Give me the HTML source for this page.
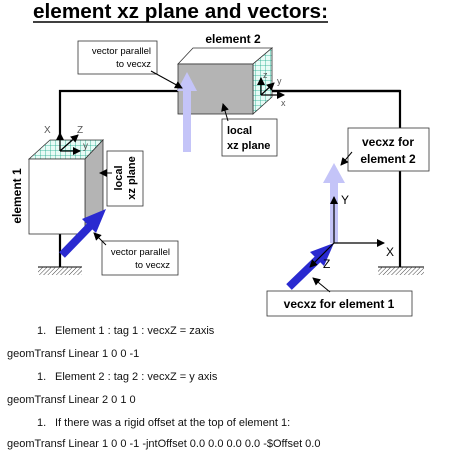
<!DOCTYPE html>
<html><head><meta charset="utf-8"><style>
html,body{margin:0;padding:0;background:#fff;}
svg{display:block;}
text{font-family:"Liberation Sans",Arial,sans-serif;}
</style></head><body>
<svg width="452" height="454" viewBox="0 0 452 454" xmlns="http://www.w3.org/2000/svg">
<defs>
<pattern id="grid" width="5" height="5" patternUnits="userSpaceOnUse">
<rect width="5" height="5" fill="#e8fbf6"/>
<path d="M0 0H5M0 0V5" stroke="#1aa88a" stroke-width="0.8"/>
</pattern>
<pattern id="hatch" width="3" height="3" patternUnits="userSpaceOnUse" patternTransform="rotate(45)">
<line x1="0" y1="0" x2="0" y2="3" stroke="#444" stroke-width="1"/>
</pattern>
<marker id="ah" markerWidth="8" markerHeight="8" refX="7" refY="4" orient="auto" markerUnits="userSpaceOnUse">
<path d="M0 0L8 4L0 8Z" fill="#000"/>
</marker>
</defs>

<text x="33" y="18" font-size="20" font-weight="bold" textLength="295" lengthAdjust="spacingAndGlyphs">element xz plane and vectors:</text>
<line x1="33" y1="22" x2="328" y2="22" stroke="#000" stroke-width="1.6"/>

<!-- frame -->
<path d="M60 140V91H400V267" fill="none" stroke="#000" stroke-width="2.2"/>
<line x1="60" y1="234" x2="60" y2="267" stroke="#000" stroke-width="2.2"/>
<line x1="38" y1="267" x2="82" y2="267" stroke="#000" stroke-width="1"/>
<rect x="38" y="267" width="44" height="8" fill="url(#hatch)"/>
<line x1="378" y1="267" x2="424" y2="267" stroke="#000" stroke-width="1"/>
<rect x="378" y="267" width="46" height="8" fill="url(#hatch)"/>

<!-- element 1 -->
<polygon points="29,159 50,140 103,140 85,159" fill="url(#grid)" stroke="#333" stroke-width="0.8"/>
<polygon points="85,159 103,140 103,213 85,234" fill="#b4b4b4" stroke="#333" stroke-width="0.8"/>
<rect x="29" y="159" width="56" height="75" fill="#fff" stroke="#333" stroke-width="0.8"/>
<line x1="60" y1="151" x2="60" y2="133" stroke="#000" stroke-width="1.3" marker-end="url(#ah)"/>
<line x1="60" y1="151" x2="78" y2="135" stroke="#000" stroke-width="1.3" marker-end="url(#ah)"/>
<line x1="60" y1="151" x2="80" y2="151" stroke="#000" stroke-width="1.3" marker-end="url(#ah)"/>
<text x="44" y="133" font-size="10" fill="#555">X</text>
<text x="77" y="133" font-size="10" fill="#555">Z</text>
<text x="83" y="149" font-size="10" fill="#555">y</text>
<text transform="translate(21,196) rotate(-90)" font-size="12" font-weight="bold" text-anchor="middle">element 1</text>

<rect x="107" y="151" width="36" height="55" fill="#fff" stroke="#333" stroke-width="0.8"/>
<text transform="translate(122,178) rotate(-90)" font-size="11" font-weight="bold" text-anchor="middle">local</text>
<text transform="translate(135,178) rotate(-90)" font-size="11" font-weight="bold" text-anchor="middle">xz plane</text>
<line x1="112" y1="173" x2="100" y2="173" stroke="#000" stroke-width="1" marker-end="url(#ah)"/>

<!-- dark blue arrow el1 -->
<line x1="62" y1="255" x2="93" y2="223" stroke="#2a2ad0" stroke-width="8"/>
<polygon points="106,209 82,219 96,233" fill="#2a2ad0"/>
<rect x="102" y="241" width="76" height="34" fill="#fff" stroke="#333" stroke-width="0.8"/>
<text x="170" y="255" font-size="9.5" text-anchor="end">vector parallel</text>
<text x="170" y="268" font-size="9.5" text-anchor="end">to vecxz</text>
<line x1="106" y1="245" x2="94" y2="233" stroke="#000" stroke-width="1" marker-end="url(#ah)"/>

<!-- element 2 -->
<polygon points="178,64 193,48 272,48 253,64" fill="#fff" stroke="#333" stroke-width="0.8"/>
<polygon points="253,64 272,48 272,97 253,114" fill="url(#grid)" stroke="#333" stroke-width="0.8"/>
<rect x="178" y="64" width="75" height="50" fill="#b4b4b4" stroke="#333" stroke-width="0.8"/>
<line x1="272" y1="91" x2="400" y2="91" stroke="#000" stroke-width="2.2"/>
<text x="233" y="43" font-size="12" font-weight="bold" text-anchor="middle">element 2</text>
<line x1="261" y1="95" x2="261" y2="78" stroke="#000" stroke-width="1.2" marker-end="url(#ah)"/>
<line x1="261" y1="95" x2="274" y2="83" stroke="#000" stroke-width="1.2" marker-end="url(#ah)"/>
<line x1="261" y1="95" x2="284" y2="95" stroke="#000" stroke-width="1.2" marker-end="url(#ah)"/>
<text x="263" y="78" font-size="9" fill="#555">z</text>
<text x="277" y="84" font-size="9" fill="#555">y</text>
<text x="281" y="106" font-size="9" fill="#555">x</text>

<!-- light blue arrow el2 -->
<rect x="183" y="89" width="8" height="63" fill="#c4c4f8"/>
<polygon points="187,72 177,91 197,91" fill="#c4c4f8"/>

<rect x="78" y="41" width="79" height="33" fill="#fff" stroke="#333" stroke-width="0.8"/>
<text x="151" y="54" font-size="9.5" text-anchor="end">vector parallel</text>
<text x="151" y="67" font-size="9.5" text-anchor="end">to vecxz</text>
<line x1="151" y1="71" x2="182" y2="88" stroke="#000" stroke-width="1" marker-end="url(#ah)"/>

<rect x="222" y="119" width="55" height="37" fill="#fff" stroke="#333" stroke-width="0.8"/>
<text x="227" y="134" font-size="11" font-weight="bold">local</text>
<text x="227" y="149" font-size="11" font-weight="bold">xz plane</text>
<line x1="228" y1="121" x2="223" y2="104" stroke="#000" stroke-width="1" marker-end="url(#ah)"/>

<!-- global axes -->
<rect x="330" y="180" width="8" height="63" fill="#c4c4f8"/>
<polygon points="334,163 323,183 345,183" fill="#c4c4f8"/>
<line x1="334" y1="243" x2="334" y2="197" stroke="#000" stroke-width="1.2" marker-end="url(#ah)"/>
<line x1="334" y1="243" x2="384" y2="243" stroke="#000" stroke-width="1.2" marker-end="url(#ah)"/>
<text x="341" y="204" font-size="12">Y</text>
<text x="386" y="256" font-size="12">X</text>
<line x1="289" y1="287" x2="320" y2="257" stroke="#2a2ad0" stroke-width="8"/>
<polygon points="334,243 310,252 324,266" fill="#2a2ad0"/>
<line x1="334" y1="243" x2="310" y2="267" stroke="#000" stroke-width="1.2" marker-end="url(#ah)"/>
<text x="323" y="268" font-size="12">Z</text>

<rect x="348" y="128" width="81" height="43" fill="#fff" stroke="#333" stroke-width="0.8"/>
<text x="388" y="146" font-size="12" font-weight="bold" text-anchor="middle">vecxz for</text>
<text x="388" y="163" font-size="12" font-weight="bold" text-anchor="middle">element 2</text>
<line x1="352" y1="152" x2="341" y2="165" stroke="#000" stroke-width="1" marker-end="url(#ah)"/>

<rect x="267" y="291" width="145" height="25" fill="#fff" stroke="#333" stroke-width="0.8"/>
<text x="339" y="308" font-size="12" font-weight="bold" text-anchor="middle">vecxz for element 1</text>
<line x1="330" y1="292" x2="313" y2="278" stroke="#000" stroke-width="1" marker-end="url(#ah)"/>

<!-- text -->
<g font-size="11" fill="#111">
<text x="37" y="334">1.</text><text x="55" y="334">Element 1 : tag 1 : vecxZ = zaxis</text>
<text x="7" y="357">geomTransf Linear 1 0 0 -1</text>
<text x="37" y="380">1.</text><text x="55" y="380">Element 2 : tag 2 : vecxZ = y axis</text>
<text x="7" y="403">geomTransf Linear 2 0 1 0</text>
<text x="37" y="426">1.</text><text x="55" y="426">If there was a rigid offset at the top of element 1:</text>
<text x="7" y="447">geomTransf Linear 1 0 0 -1 -jntOffset 0.0 0.0 0.0 0.0 -$Offset 0.0</text>
</g>
</svg>
</body></html>
